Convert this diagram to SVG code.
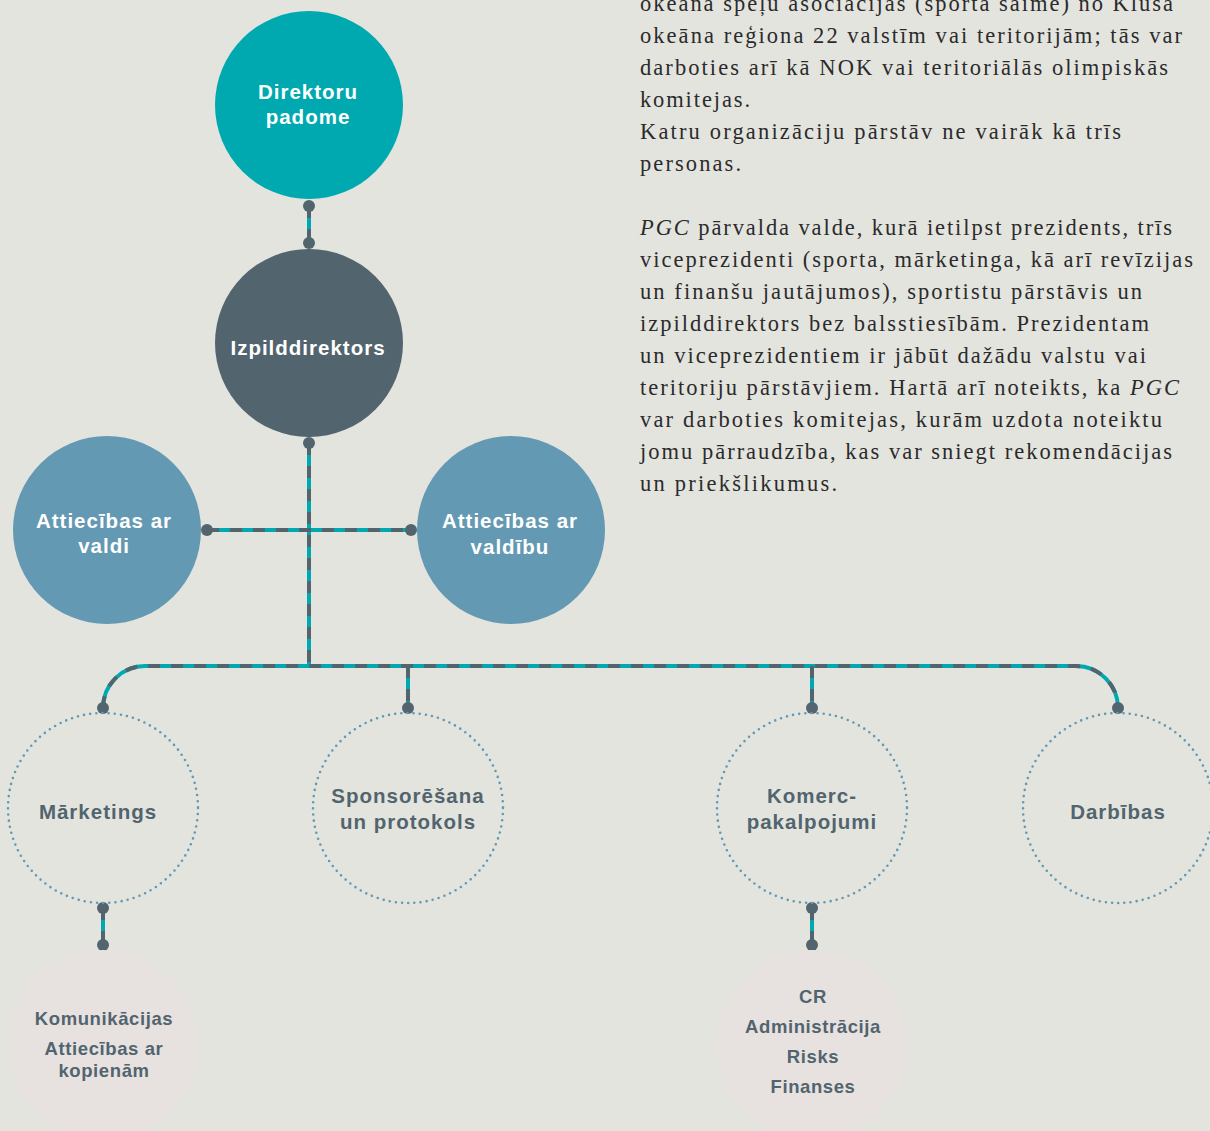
<svg xmlns="http://www.w3.org/2000/svg" width="1210" height="1131" viewBox="0 0 1210 1131">
  <style>
    .bg { fill: #e4e4df; }
    .teal { fill: #00a9b0; }
    .slate { fill: #52646e; }
    .blue { fill: #6499b3; }
    .soft { fill: #e7e2e0; }
    .ring { fill: none; stroke: #6499b3; stroke-width: 2.6; stroke-linecap: round; stroke-dasharray: 0 6.2; }
    .base { fill: none; stroke: #00a9b0; stroke-width: 4; }
    .dash { fill: none; stroke: #52646e; stroke-width: 4; stroke-dasharray: 12 11; }
    .dot { fill: #52646e; }
    .lbl { font-family: "Liberation Sans", Arial, sans-serif; font-weight: bold; font-size: 20.5px; letter-spacing: 1px; text-anchor: middle; }
    .w { fill: #ffffff; }
    .d { fill: #52646e; }
    .sm { font-family: "Liberation Sans", Arial, sans-serif; font-weight: bold; font-size: 18.5px; letter-spacing: 0.6px; text-anchor: middle; fill: #52646e; }
    .body { font-family: "Liberation Serif", "Times New Roman", serif; font-size: 22.5px; fill: #2b2b2b; }
  </style>
  <defs>
    <path id="wires" d="M309,206 V243 M309,443 V666 M207,530 H411 M103,708 A42,42 0 0 1 145,666 H1076 A42,42 0 0 1 1118,708 M408,666 V708 M812,666 V708 M103,908 V945 M812,908 V945"/>
  </defs>
  <rect class="bg" x="0" y="0" width="1210" height="1131"/>

  <!-- connectors: teal line with slate dashes laid over it -->
  <g id="connectors">
    <use href="#wires" class="base"/>
    <use href="#wires" class="dash"/>
    <circle class="dot" cx="309" cy="206" r="6"/>
    <circle class="dot" cx="309" cy="243" r="6"/>
    <circle class="dot" cx="309" cy="443" r="6"/>
    <circle class="dot" cx="207" cy="530" r="6"/>
    <circle class="dot" cx="411" cy="530" r="6"/>
    <circle class="dot" cx="103" cy="708" r="6"/>
    <circle class="dot" cx="408" cy="708" r="6"/>
    <circle class="dot" cx="812" cy="708" r="6"/>
    <circle class="dot" cx="1118" cy="708" r="6"/>
    <circle class="dot" cx="103" cy="908" r="6"/>
    <circle class="dot" cx="103" cy="945" r="6"/>
    <circle class="dot" cx="812" cy="908" r="6"/>
    <circle class="dot" cx="812" cy="945" r="6"/>
  </g>

  <g id="direktoru-padome">
    <circle class="teal" cx="309" cy="105" r="94"/>
    <text class="lbl w" x="308" y="99">Direktoru</text>
    <text class="lbl w" x="308" y="124">padome</text>
  </g>

  <g id="izpilddirektors">
    <circle class="slate" cx="309" cy="343" r="94"/>
    <text class="lbl w" x="308" y="355">Izpilddirektors</text>
  </g>

  <g id="attiecibas-valdi">
    <circle class="blue" cx="107" cy="530" r="94"/>
    <text class="lbl w" x="104" y="528">Attiecības ar</text>
    <text class="lbl w" x="104" y="553">valdi</text>
  </g>

  <g id="attiecibas-valdibu">
    <circle class="blue" cx="511" cy="530" r="94"/>
    <text class="lbl w" x="510" y="528">Attiecības ar</text>
    <text class="lbl w" x="510" y="554">valdību</text>
  </g>

  <g id="marketings">
    <circle class="ring" cx="103" cy="808" r="95"/>
    <text class="lbl d" x="98" y="819">Mārketings</text>
  </g>

  <g id="sponsoresana">
    <circle class="ring" cx="408" cy="808" r="95"/>
    <text class="lbl d" x="408" y="803">Sponsorēšana</text>
    <text class="lbl d" x="408" y="829">un protokols</text>
  </g>

  <g id="komercpakalpojumi">
    <circle class="ring" cx="812" cy="808" r="95"/>
    <text class="lbl d" x="812" y="803">Komerc-</text>
    <text class="lbl d" x="812" y="829">pakalpojumi</text>
  </g>

  <g id="darbibas">
    <circle class="ring" cx="1118" cy="808" r="95"/>
    <text class="lbl d" x="1118" y="819">Darbības</text>
  </g>

  <g id="komunikacijas">
    <circle class="soft" cx="103" cy="1045" r="95"/>
    <text class="sm" x="104" y="1025">Komunikācijas</text>
    <text class="sm" x="104" y="1055">Attiecības ar</text>
    <text class="sm" x="104" y="1077">kopienām</text>
  </g>

  <g id="cr-administracija">
    <circle class="soft" cx="812" cy="1045" r="95"/>
    <text class="sm" x="813" y="1003">CR</text>
    <text class="sm" x="813" y="1033">Administrācija</text>
    <text class="sm" x="813" y="1063">Risks</text>
    <text class="sm" x="813" y="1093">Finanses</text>
  </g>

  <!-- body copy, each line set to its measure -->
  <g id="body-text" class="body">
    <text x="640" y="11" textLength="533" lengthAdjust="spacing">okeāna spēļu asociācijas (sporta saime) no Klusā</text>
    <text x="640" y="43" textLength="542" lengthAdjust="spacing">okeāna reģiona 22 valstīm vai teritorijām; tās var</text>
    <text x="640" y="75" textLength="528" lengthAdjust="spacing">darboties arī kā NOK vai teritoriālās olimpiskās</text>
    <text x="640" y="107" textLength="110" lengthAdjust="spacing">komitejas.</text>
    <text x="640" y="139" textLength="481" lengthAdjust="spacing">Katru organizāciju pārstāv ne vairāk kā trīs</text>
    <text x="640" y="171" textLength="101" lengthAdjust="spacing">personas.</text>
    <text x="640" y="235" textLength="532" lengthAdjust="spacing"><tspan font-style="italic">PGC</tspan> pārvalda valde, kurā ietilpst prezidents, trīs</text>
    <text x="640" y="267" textLength="553" lengthAdjust="spacing">viceprezidenti (sporta, mārketinga, kā arī revīzijas</text>
    <text x="640" y="299" textLength="502" lengthAdjust="spacing">un finanšu jautājumos), sportistu pārstāvis un</text>
    <text x="640" y="331" textLength="509" lengthAdjust="spacing">izpilddirektors bez balsstiesībām. Prezidentam</text>
    <text x="640" y="363" textLength="506" lengthAdjust="spacing">un viceprezidentiem ir jābūt dažādu valstu vai</text>
    <text x="640" y="395" textLength="539" lengthAdjust="spacing">teritoriju pārstāvjiem. Hartā arī noteikts, ka <tspan font-style="italic">PGC</tspan></text>
    <text x="640" y="427" textLength="522" lengthAdjust="spacing">var darboties komitejas, kurām uzdota noteiktu</text>
    <text x="640" y="459" textLength="532" lengthAdjust="spacing">jomu pārraudzība, kas var sniegt rekomendācijas</text>
    <text x="640" y="491" textLength="197" lengthAdjust="spacing">un priekšlikumus.</text>
  </g>
</svg>
